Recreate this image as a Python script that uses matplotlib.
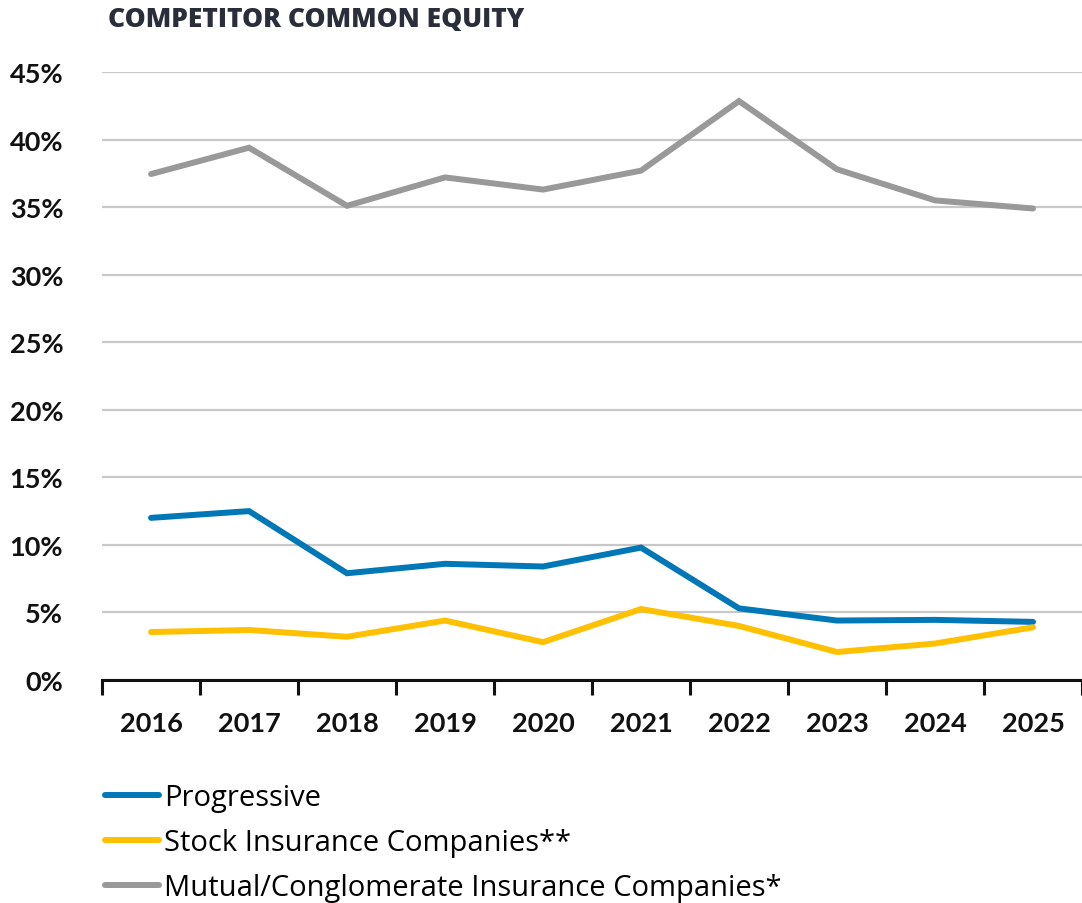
import matplotlib
matplotlib.use("Agg")
import matplotlib.pyplot as plt
from matplotlib.ticker import FixedLocator, FuncFormatter

plt.rcParams['font.family'] = ['Lato', 'DejaVu Sans']

years = ['2016', '2017', '2018', '2019', '2020', '2021', '2022', '2023', '2024', '2025']
progressive = [12.0, 12.5, 7.9, 8.6, 8.4, 9.8, 5.3, 4.4, 4.45, 4.3]
stock = [3.55, 3.7, 3.2, 4.4, 2.8, 5.25, 4.0, 2.07, 2.7, 3.9]
mutual = [37.45, 39.4, 35.1, 37.2, 36.3, 37.7, 42.85, 37.8, 35.5, 34.9]
series_labels = ['Progressive', 'Stock Insurance Companies**',
                 'Mutual/Conglomerate Insurance Companies*']
colors = ['#0077B6', '#FFC000', '#999999']

fig = plt.figure(figsize=(10.82, 9.04), dpi=100)
ax = fig.add_axes([0.0943, 0.2467, 0.9057, 0.6725])

x = range(len(years))
lines = []
for vals, lab, col in zip([progressive, stock, mutual], series_labels, colors):
    ln, = ax.plot(x, vals, color=col, lw=4.3, solid_capstyle='round',
                  solid_joinstyle='miter', label=lab, zorder=3)
    lines.append(ln)

ax.set_xlim(-0.5, len(years) - 0.5)
ax.set_ylim(0, 45)
ax.set_yticks(range(0, 46, 5))
ax.yaxis.set_major_formatter(FuncFormatter(lambda v, p: f'{int(v)}%'))
ax.grid(axis='y', color='#c8c8c8', lw=1.6, zorder=0)
ax.set_axisbelow(True)

ax.set_xticks(list(x))
ax.set_xticklabels(years)
ax.xaxis.set_minor_locator(FixedLocator([i - 0.5 for i in range(len(years) + 1)]))
ax.tick_params(axis='x', which='major', length=0, pad=22, labelsize=19.5)
ax.tick_params(axis='x', which='minor', length=11, width=2.2, direction='out', color='#111111')
ax.tick_params(axis='y', length=0, pad=28, labelsize=19.5)
for t in ax.get_xticklabels() + ax.get_yticklabels():
    t.set_fontweight('bold')
    t.set_color('#111111')

for s in ['top', 'right', 'left']:
    ax.spines[s].set_visible(False)
ax.spines['bottom'].set_linewidth(2.2)
ax.spines['bottom'].set_color('#111111')

fig.text(0.1, 0.978, 'COMPETITOR COMMON EQUITY', fontsize=19, fontweight='heavy',
         family=['Open Sans', 'DejaVu Sans'], color='#2a2d3a', va='center', ha='left')

fig.legend(handles=lines, loc='upper left', bbox_to_anchor=(0.097, 0.133),
           frameon=False, prop={'family': ['Open Sans', 'DejaVu Sans'], 'size': 21},
           handlelength=1.85, handletextpad=0.18,
           labelspacing=0.55, borderaxespad=0, borderpad=0)

fig.savefig('out.png', dpi=100)
